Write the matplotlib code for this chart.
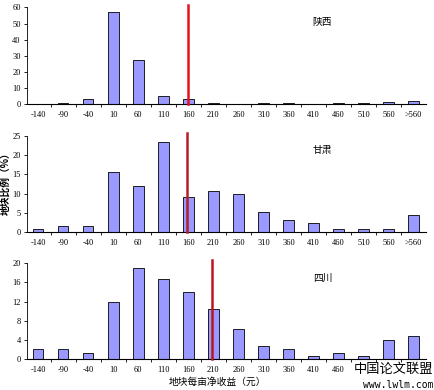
import numpy as np
import matplotlib.pyplot as plt

plt.rcParams['font.family'] = ['Liberation Serif', 'Noto Sans CJK SC', 'DejaVu Sans']

cats = ['-140', '-90', '-40', '10', '60', '110', '160', '210', '260', '310',
        '360', '410', '460', '510', '560', '>560']

shaanxi = [0, 0.6, 3.3, 56.9, 27.2, 4.9, 3.3, 0.6, 0, 0.6, 0.6, 0, 0.6, 0.6, 1.2, 2.1]
gansu = [0.9, 1.6, 1.6, 15.5, 11.9, 23.3, 9.1, 10.6, 9.9, 5.2, 3.1, 2.3, 0.8, 0.8, 0.8, 4.5]
sichuan = [2.15, 2.15, 1.25, 11.9, 19.0, 16.7, 14.0, 10.4, 6.25, 2.7, 2.1, 0.6, 1.25, 0.6, 4.0, 4.8]

regions = ['陕西', '甘肃', '四川']
series = [shaanxi, gansu, sichuan]
ymax = [60, 25, 20]
ystep = [10, 5, 4]
mean_pos = [6.0, 5.95, 6.95]
line_col = ['#e8101a', '#b81e28', '#c0141c']

fig = plt.figure(figsize=(4.34, 3.9), dpi=100)
boxes = [[0.062, 0.733, 0.92, 0.248],
         [0.062, 0.405, 0.92, 0.247],
         [0.062, 0.079, 0.92, 0.246]]

x = np.arange(len(cats))
for k in range(3):
    ax = fig.add_axes(boxes[k])
    ax.bar(x, series[k], width=0.42, color='#9999ff', edgecolor='black', linewidth=0.6, zorder=2)
    ax.plot([mean_pos[k], mean_pos[k]], [0, ymax[k] * 1.03], color=line_col[k], lw=1.8,
            clip_on=False, zorder=3)
    ax.set_xlim(-0.45, 15.5)
    ax.set_ylim(0, ymax[k])
    ax.set_yticks(np.arange(0, ymax[k] + 1, ystep[k]))
    ax.set_xticks(x)
    ax.set_xticklabels(cats)
    ax.set_xticks(np.arange(0.5, 15.5, 1), minor=True)
    ax.tick_params(axis='x', which='major', length=0, labelsize=6, pad=5)
    ax.tick_params(axis='x', which='minor', length=2.5, width=0.6)
    ax.tick_params(axis='y', length=2.5, width=0.6, labelsize=6, pad=2)
    for s in ['top', 'right']:
        ax.spines[s].set_visible(False)
    ax.spines['left'].set_linewidth(0.6)
    ax.spines['bottom'].set_linewidth(0.8)
    ax.text(0.74, 0.85, regions[k], transform=ax.transAxes, fontsize=7,
            family=['Noto Sans CJK SC'], ha='center', va='center')

fig.text(0.012, 0.535, '地块比例（%）', rotation=90, fontsize=7, ha='center', va='center',
         family=['Noto Sans CJK SC'], fontweight='bold')
fig.text(0.5, 0.022, '地块每亩净收益（元）', fontsize=7, ha='center', va='center',
         family=['Noto Sans CJK SC'])
# corner mark of the source page, drawn over the last tick labels as in the original
fig.text(0.998, 0.052, '中国论文联盟', fontsize=9.5, ha='right', va='center',
         family=['Noto Sans CJK SC'], zorder=10,
         bbox=dict(facecolor='white', edgecolor='none', pad=0.5))
fig.text(0.998, 0.012, 'www.lwlm.com', fontsize=7, ha='right', va='center',
         family=['DejaVu Sans Mono'], zorder=10)

fig.savefig('out.png', dpi=100)
